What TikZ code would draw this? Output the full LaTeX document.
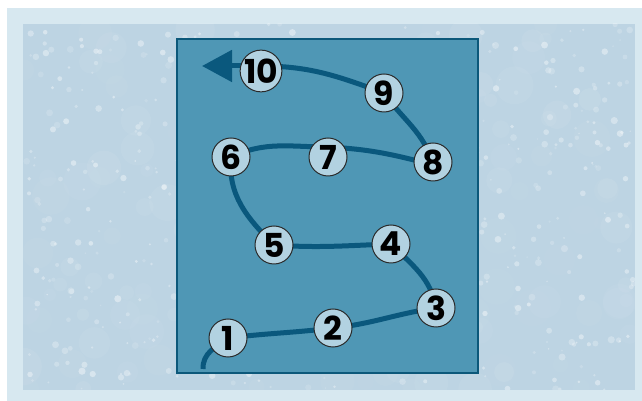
\documentclass[tikz,border=0pt]{standalone}
\usepackage{fontspec}
\newfontfamily\numfont{Poppins}
\usetikzlibrary{arrows.meta,backgrounds}
\definecolor{frameblue}{HTML}{D7E8F0}
\definecolor{photoblue}{HTML}{BDD4E3}
\definecolor{boxfill}{HTML}{4F97B5}
\definecolor{boxedge}{HTML}{0C587A}
\definecolor{pathblue}{HTML}{0A587D}
\definecolor{circfill}{HTML}{B2D2E1}
\definecolor{circedge}{HTML}{2A2A2A}
\tikzset{
  stop/.style={circle, minimum size=38pt, inner sep=0pt, fill=circfill, draw=circedge, line width=1pt,
    font=\numfont\bfseries\fontsize{33}{33}\selectfont},
  route/.style={draw=pathblue, line width=5pt},
}
\begin{document}
\begin{tikzpicture}[x=1pt,y=1pt]
\useasboundingbox (0,0) rectangle (642,401);
% nodes
\node[stop] (n1) at (228,63) {1};
\node[stop] (n2) at (333,73) {2};
\node[stop] (n3) at (436,93) {3};
\node[stop] (n4) at (391,157) {4};
\node[stop] (n5) at (274,156) {5};
\node[stop] (n6) at (231,244) {6};
\node[stop] (n7) at (328,244) {7};
\node[stop] (n8) at (433,239) {8};
\node[stop] (n9) at (384,308) {9};
\node[stop] (n10) at (261,330) {10};
\coordinate (start) at (203,32);
\coordinate (tip) at (202,335);
\begin{scope}[on background layer]
  \fill[white] (0,0) rectangle (642,401);
  \fill[frameblue] (7,0) rectangle (642,393);
  \fill[photoblue] (23,11) rectangle (635,377);
  \begin{scope}
  \clip (23,11) rectangle (635,377);
  \pgfmathsetseed{11}
  \foreach \k in {1,...,160}{
    \pgfmathsetmacro{\px}{23+612*rnd}
    \pgfmathsetmacro{\py}{11+366*rnd}
    \pgfmathsetmacro{\pr}{6+14*rnd}
    \pgfmathsetmacro{\po}{0.02+0.05*rnd}
    \fill[white, opacity=\po] (\px,\py) circle (\pr);
  }
  \foreach \k in {1,...,600}{
    \pgfmathsetmacro{\px}{23+612*rnd}
    \pgfmathsetmacro{\py}{11+366*rnd}
    \pgfmathsetmacro{\pr}{0.8+2.8*rnd}
    \pgfmathsetmacro{\po}{0.12+0.3*rnd}
    \fill[white, opacity=\po] (\px,\py) circle (\pr);
  }
  \end{scope}
  \filldraw[fill=boxfill, draw=boxedge, line width=2pt] (177,28) rectangle (478,362);
  \draw[route]
    (start) to[out=92,in=215] (n1.center)
    to[out=7,in=187] (n2.center)
    to[out=6,in=188] (n3.center)
    to[out=100,in=-45] (n4.center)
    to[out=182,in=-4] (n5.center)
    to[out=135,in=-95] (n6.center)
    to[out=25,in=180] ([yshift=10pt]n7.center)
    to[out=-3,in=165] ([yshift=-3pt]n8.center)
    to[out=105,in=-55] (n9.center)
    to[out=160,in=0] (n10.center |- tip);
  \draw[route, -{Triangle[length=30pt,width=31pt]}] (n10.center |- tip) -- (tip);
\end{scope}
\end{tikzpicture}
\end{document}
